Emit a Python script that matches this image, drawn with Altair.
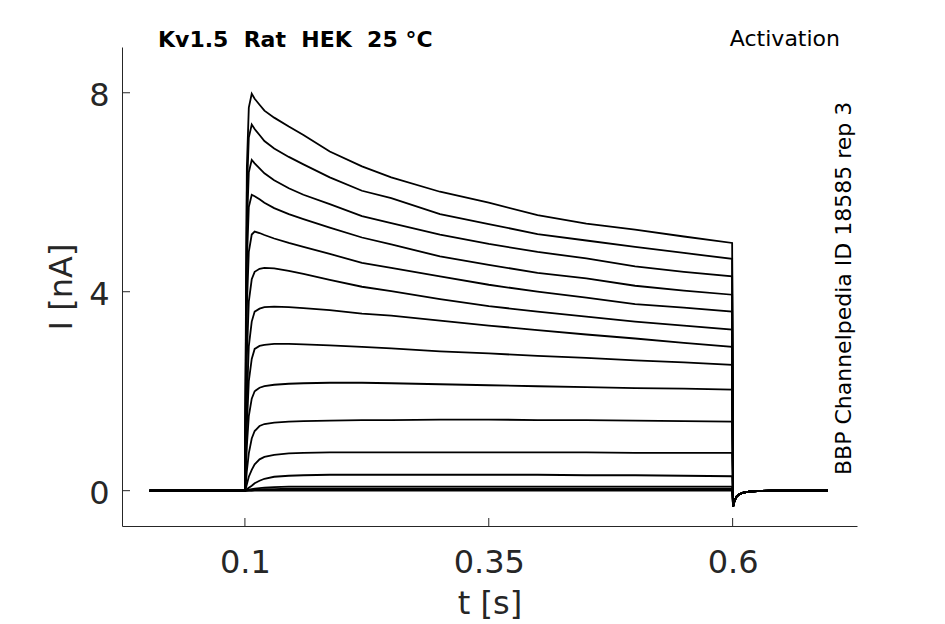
import altair as alt
import pandas as pd

# ---------------- data ----------------
# time samples (s)
t_hold = [0.0022, 0.1]
t_step = [0.101, 0.102, 0.104, 0.107, 0.11, 0.115, 0.12, 0.13, 0.145, 0.16,
          0.187, 0.22, 0.25, 0.30, 0.35, 0.40, 0.45, 0.50, 0.55, 0.5995]
t_tail = [0.6005, 0.602, 0.604, 0.607, 0.611, 0.617, 0.625, 0.64, 0.66, 0.6978]
i_tail = [-0.32, -0.2, -0.12, -0.07, -0.04, -0.02, -0.01, 0.0, 0.0, 0.0]

# current (nA) of each sweep during the step
sweep_01 = [3.5, 6.5, 7.7, 7.98, 7.88, 7.76, 7.64, 7.5, 7.32, 7.15, 6.82, 6.52, 6.3, 6.01, 5.79, 5.54, 5.37, 5.25, 5.11, 4.98]
sweep_02 = [3.0, 6.0, 7.1, 7.36, 7.27, 7.15, 7.03, 6.88, 6.71, 6.56, 6.3, 6.03, 5.88, 5.56, 5.36, 5.16, 5.03, 4.9, 4.78, 4.66]
sweep_03 = [2.6, 5.3, 6.4, 6.65, 6.58, 6.48, 6.38, 6.24, 6.08, 5.95, 5.76, 5.52, 5.38, 5.15, 4.96, 4.8, 4.67, 4.51, 4.4, 4.31]
sweep_04 = [2.2, 4.6, 5.7, 5.95, 5.92, 5.86, 5.79, 5.68, 5.56, 5.46, 5.29, 5.09, 4.95, 4.71, 4.54, 4.38, 4.27, 4.12, 4.02, 3.94]
sweep_05 = [1.8, 3.7, 4.8, 5.15, 5.21, 5.18, 5.14, 5.07, 4.98, 4.9, 4.76, 4.58, 4.48, 4.31, 4.14, 4.0, 3.88, 3.75, 3.68, 3.6]
sweep_06 = [1.3, 2.7, 3.8, 4.25, 4.4, 4.46, 4.48, 4.47, 4.42, 4.36, 4.24, 4.1, 4.01, 3.85, 3.71, 3.6, 3.5, 3.4, 3.32, 3.24]
sweep_07 = [0.8, 1.8, 2.9, 3.4, 3.6, 3.66, 3.69, 3.7, 3.69, 3.67, 3.63, 3.56, 3.52, 3.42, 3.32, 3.23, 3.14, 3.06, 2.97, 2.89]
sweep_08 = [0.6, 1.3, 2.2, 2.65, 2.85, 2.91, 2.93, 2.95, 2.95, 2.94, 2.92, 2.89, 2.86, 2.8, 2.76, 2.71, 2.67, 2.62, 2.58, 2.53]
sweep_09 = [0.4, 0.9, 1.5, 1.85, 2.0, 2.07, 2.1, 2.13, 2.15, 2.16, 2.17, 2.17, 2.16, 2.14, 2.12, 2.1, 2.08, 2.06, 2.05, 2.03]
sweep_10 = [0.15, 0.4, 0.75, 1.05, 1.2, 1.3, 1.34, 1.37, 1.39, 1.4, 1.41, 1.42, 1.42, 1.43, 1.43, 1.42, 1.42, 1.41, 1.4, 1.39]
sweep_11 = [0.05, 0.13, 0.28, 0.42, 0.53, 0.63, 0.68, 0.72, 0.75, 0.76, 0.77, 0.77, 0.77, 0.77, 0.77, 0.77, 0.77, 0.76, 0.76, 0.76]
sweep_12 = [0.01, 0.03, 0.06, 0.1, 0.15, 0.2, 0.24, 0.28, 0.3, 0.31, 0.32, 0.32, 0.32, 0.32, 0.32, 0.32, 0.31, 0.31, 0.3, 0.29]
sweep_13 = [0.0, 0.01, 0.02, 0.03, 0.04, 0.05, 0.06, 0.07, 0.08, 0.08, 0.08, 0.08, 0.08, 0.08, 0.08, 0.08, 0.08, 0.08, 0.08, 0.08]
sweep_14 = [0.0, 0.0, 0.01, 0.01, 0.02, 0.02, 0.03, 0.03, 0.04, 0.04, 0.04, 0.04, 0.04, 0.04, 0.04, 0.04, 0.04, 0.04, 0.04, 0.04]
sweep_15 = [0.0, 0.0, 0.0, 0.0, 0.01, 0.01, 0.01, 0.01, 0.02, 0.02, 0.02, 0.02, 0.02, 0.02, 0.02, 0.02, 0.02, 0.02, 0.02, 0.02]
sweep_16 = [0.0] * 20

sweeps = [sweep_01, sweep_02, sweep_03, sweep_04, sweep_05, sweep_06, sweep_07, sweep_08,
          sweep_09, sweep_10, sweep_11, sweep_12, sweep_13, sweep_14, sweep_15, sweep_16]

x_ticks = [0.1, 0.35, 0.6]
y_ticks = [0, 4, 8]

title_left = "Kv1.5\u00a0 Rat\u00a0 HEK\u00a0 25 °C"
title_right = "Activation"
side_label = "BBP Channelpedia ID 18585 rep 3"

# ---------------- build table ----------------
rows = []
for k, vals in enumerate(sweeps):
    for t in t_hold:
        rows.append({"sweep": k, "t": t, "I": 0.0})
    for t, v in zip(t_step, vals):
        rows.append({"sweep": k, "t": t, "I": v})
    for t, v in zip(t_tail, i_tail):
        rows.append({"sweep": k, "t": t, "I": v})
df = pd.DataFrame(rows)

W, H = 735, 479
FONT = "DejaVu Sans"
GRAY = "#262626"

x_scale = alt.Scale(domain=[-0.026, 0.7275], nice=False, zero=False)
y_scale = alt.Scale(domain=[-0.71, 8.92], nice=False, zero=False)

common_axis = dict(
    grid=False, ticks=False, tickSize=0, domainColor=GRAY, domainWidth=1,
    labelFont=FONT, labelFontSize=32, labelColor=GRAY,
    titleFont=FONT, titleFontSize=32, titleColor=GRAY, titleFontWeight="normal",
    titleBaseline="alphabetic",
)
x_axis = alt.Axis(values=x_ticks, format=".2~f", title="t [s]",
                  labelPadding=21, titleY=87, **common_axis)
y_axis = alt.Axis(values=y_ticks, format="d", title="I [nA]",
                  labelPadding=13, labelOffset=3, titleX=-51, **common_axis)

lines = alt.Chart(df).mark_line(color="black", strokeWidth=1.8).encode(
    x=alt.X("t:Q", scale=x_scale, axis=x_axis),
    y=alt.Y("I:Q", scale=y_scale, axis=y_axis),
    detail="sweep:N",
)

ytick_rules = alt.Chart(pd.DataFrame({"I": y_ticks})).mark_rule(color=GRAY, strokeWidth=1).encode(
    y=alt.Y("I:Q", scale=y_scale, axis=y_axis),
    x=alt.value(0), x2=alt.value(8),
)
xtick_rules = alt.Chart(pd.DataFrame({"t": x_ticks})).mark_rule(color=GRAY, strokeWidth=1).encode(
    x=alt.X("t:Q", scale=x_scale, axis=x_axis),
    y=alt.value(H), y2=alt.value(H - 8),
)

t1 = alt.Chart(pd.DataFrame({"label": [title_left]})).mark_text(
    font=FONT, fontSize=22, fontWeight="bold", color="black", align="left", baseline="alphabetic"
).encode(text="label:N", x=alt.value(36), y=alt.value(0))

t2 = alt.Chart(pd.DataFrame({"label": [title_right]})).mark_text(
    font=FONT, fontSize=22, color="black", align="right", baseline="alphabetic"
).encode(text="label:N", x=alt.value(718), y=alt.value(-1))

t3 = alt.Chart(pd.DataFrame({"label": [side_label]})).mark_text(
    font=FONT, fontSize=22, color="black", align="left", baseline="alphabetic", angle=270
).encode(text="label:N", x=alt.value(729), y=alt.value(428))

chart = alt.layer(lines, ytick_rules, xtick_rules, t1, t2, t3).properties(
    width=W, height=H,
    autosize=alt.AutoSizeParams(type="none"),
    padding={"left": 114, "top": 39, "right": 80, "bottom": 97},
    background="white",
).configure_view(stroke=None)

chart.save("out.html", embed_options={"renderer": "svg", "actions": False})
